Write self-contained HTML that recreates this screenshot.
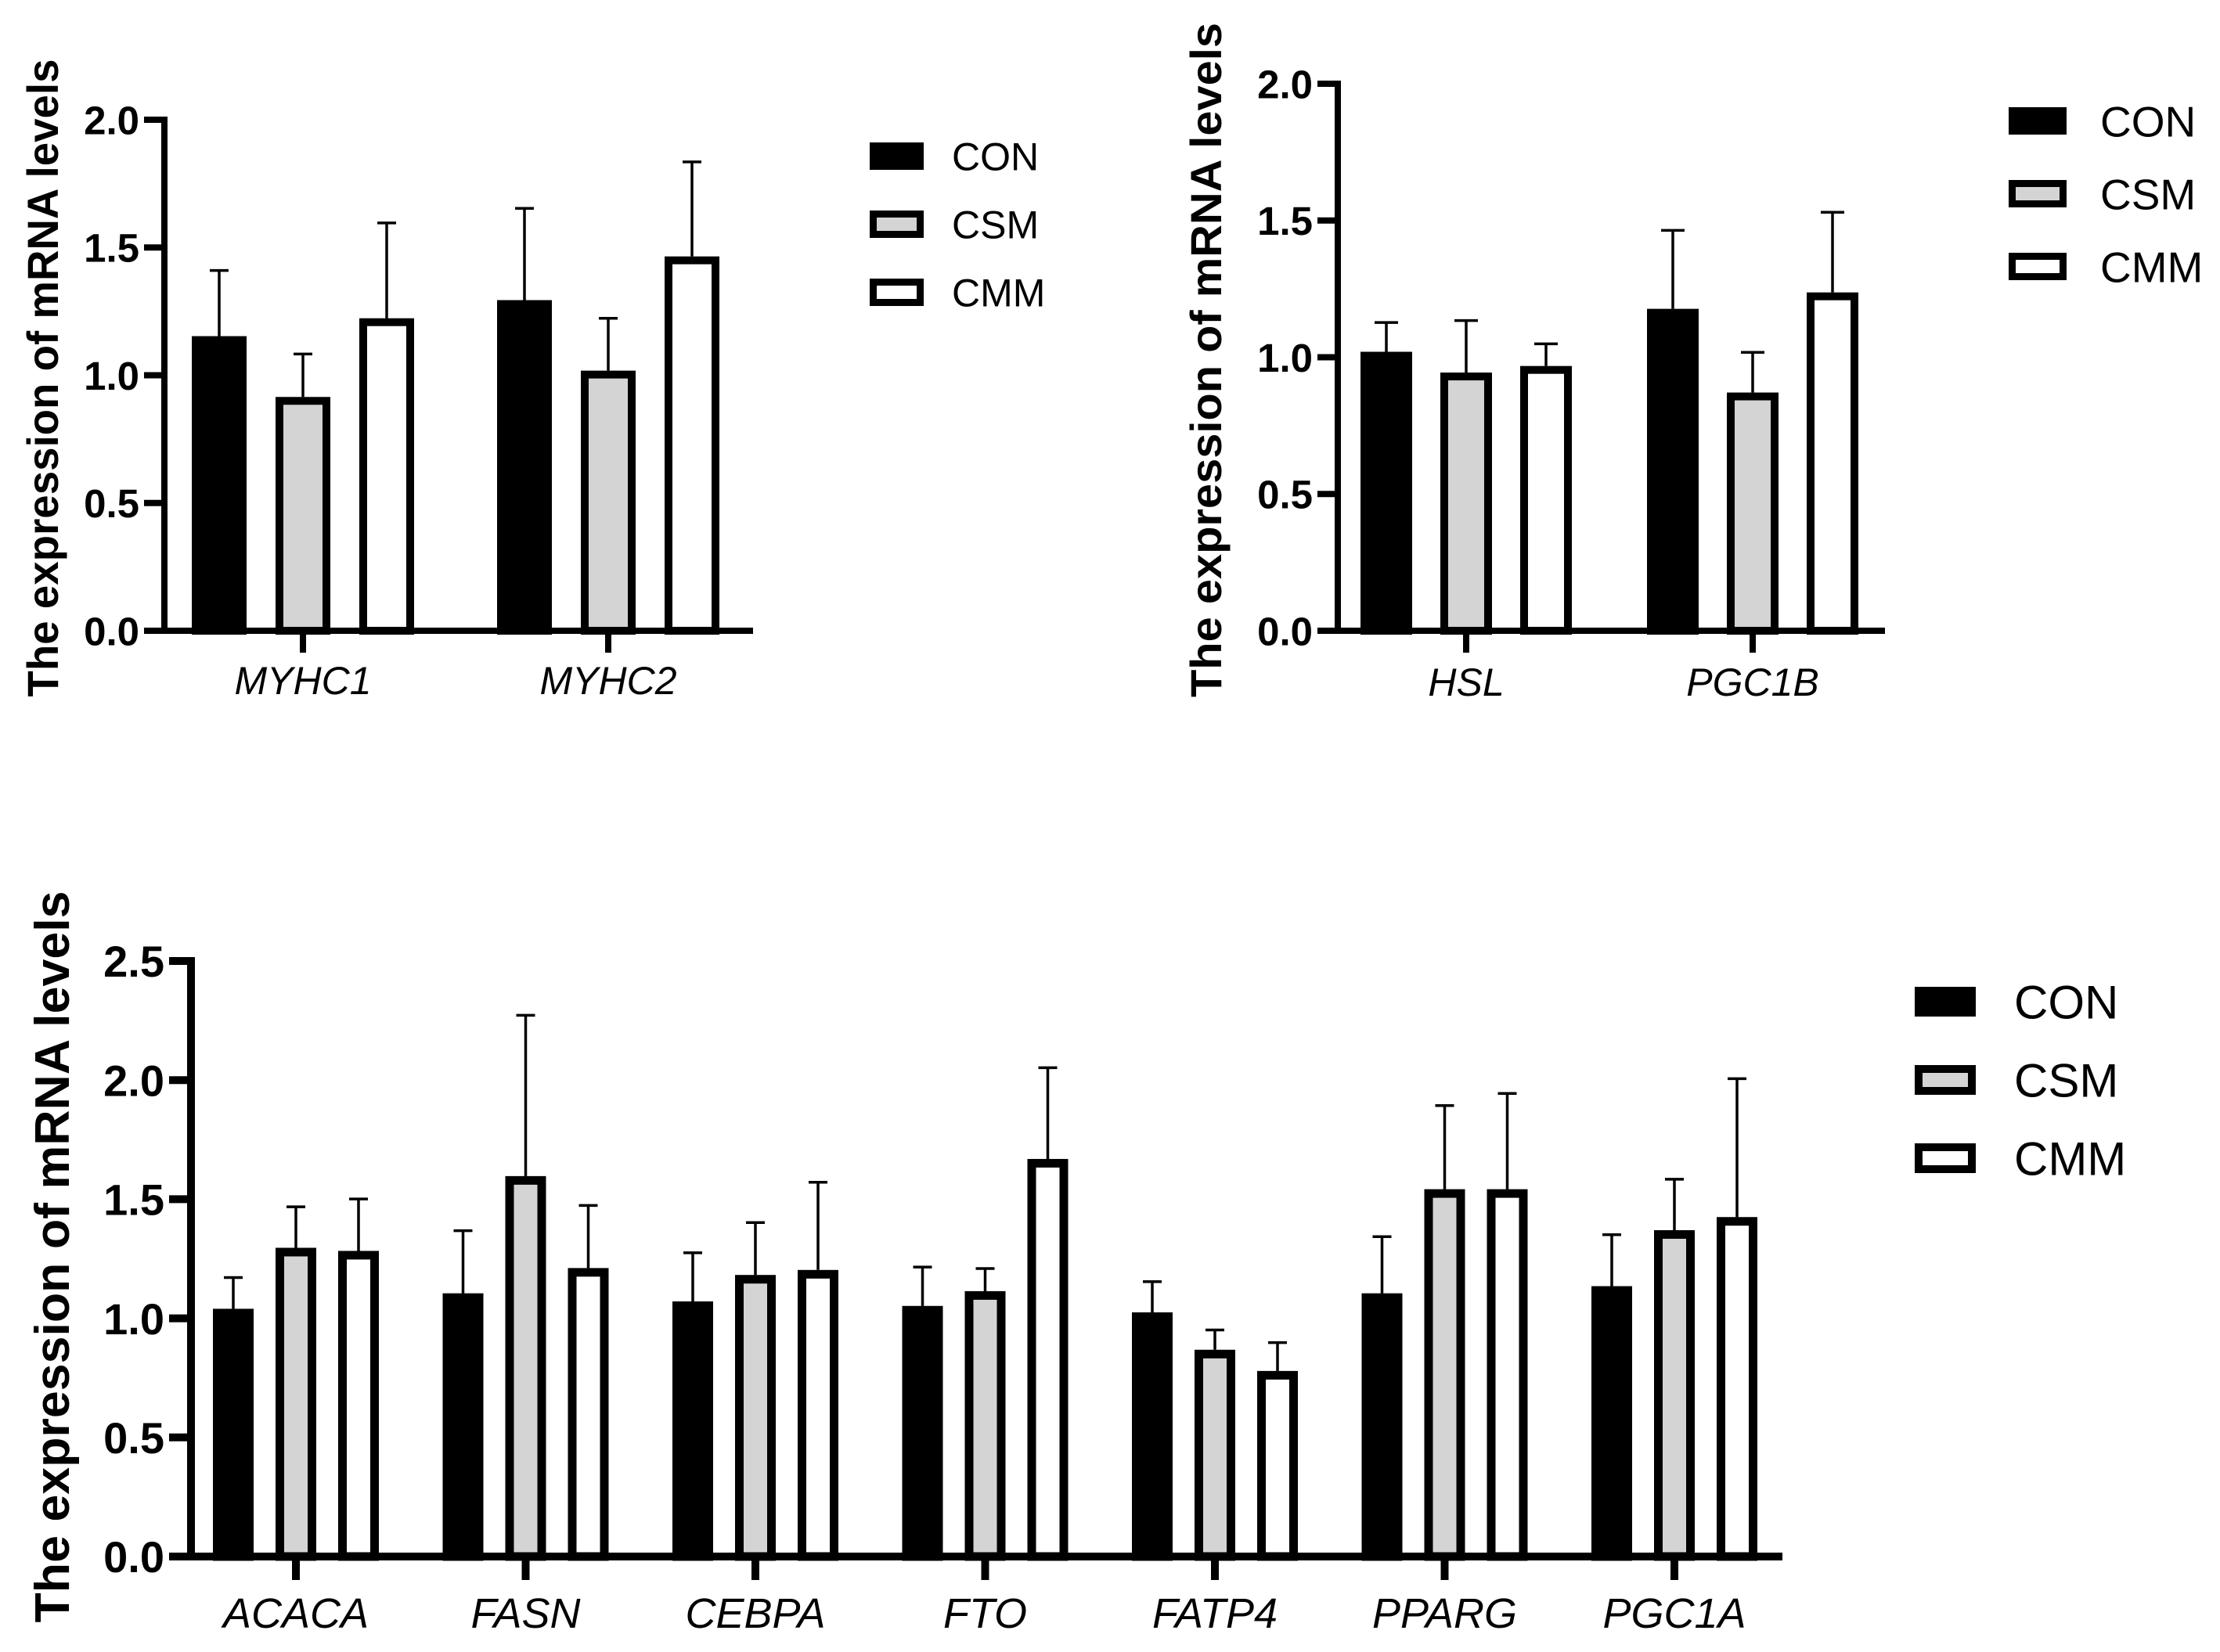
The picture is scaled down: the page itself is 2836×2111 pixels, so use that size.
<!DOCTYPE html>
<html><head><meta charset="utf-8">
<style>
html,body{margin:0;padding:0;background:#fff;}
svg{display:block;}
text{font-family:"Liberation Sans",Arial,sans-serif;fill:#000;}
</style></head>
<body>
<svg id="fig" width="2836" height="2111" viewBox="0 0 2836 2111" xmlns="http://www.w3.org/2000/svg"></svg>
<script>
// ---- data ----
const groups = ["CON", "CSM", "CMM"];
const fills = ["#000000", "#d4d4d4", "#ffffff"];

const cats1 = ["MYHC1", "MYHC2"];
const con1 = [1.153, 1.294];
const csm1 = [0.915, 1.018];
const cmm1 = [1.223, 1.465];
const conErr1 = [1.41, 1.653];
const csmErr1 = [1.083, 1.223];
const cmmErr1 = [1.596, 1.835];
const ticks1 = ["0.0", "0.5", "1.0", "1.5", "2.0"];

const cats2 = ["HSL", "PGC1B"];
const con2 = [1.02, 1.177];
const csm2 = [0.944, 0.871];
const cmm2 = [0.968, 1.237];
const conErr2 = [1.127, 1.464];
const csmErr2 = [1.134, 1.018];
const cmmErr2 = [1.049, 1.53];
const ticks2 = ["0.0", "0.5", "1.0", "1.5", "2.0"];

const cats3 = ["ACACA", "FASN", "CEBPA", "FTO", "FATP4", "PPARG", "PGC1A"];
const con3 = [1.04, 1.105, 1.071, 1.052, 1.025, 1.105, 1.135];
const csm3 = [1.296, 1.597, 1.182, 1.114, 0.868, 1.542, 1.37];
const cmm3 = [1.283, 1.211, 1.203, 1.669, 0.779, 1.542, 1.425];
const conErr3 = [1.171, 1.368, 1.275, 1.215, 1.154, 1.343, 1.351];
const csmErr3 = [1.468, 2.272, 1.402, 1.209, 0.951, 1.893, 1.584];
const cmmErr3 = [1.501, 1.474, 1.571, 2.052, 0.898, 1.944, 2.006];
const ticks3 = ["0.0", "0.5", "1.0", "1.5", "2.0", "2.5"];

const NS = "http://www.w3.org/2000/svg";
const svg = document.getElementById("fig");
function mk(tag, attrs, parent) {
  const e = document.createElementNS(NS, tag);
  for (const k in attrs) e.setAttribute(k, attrs[k]);
  (parent || svg).appendChild(e);
  return e;
}

function drawChart(o) {
  const g = mk("g", {});
  
  
  const yMax = o.ticks.length - 1;
  const yScale = v => o.y0 - (v / (yMax * 0.5)) * (o.y0 - o.yTop);
  const xScale = i => o.x0 + i * o.step;
  const vals = [o.con, o.csm, o.cmm];
  const errs = [o.conErr, o.csmErr, o.cmmErr];
  for (let i = 0; i < o.cats.length; i++) {
    for (let s = 0; s < 3; s++) {
      const cx = xScale(i) + (s - 1) * o.off;
      const yT = yScale(vals[s][i]);
      const yE = yScale(errs[s][i]);
      const el = mk("line", {x1: cx, x2: cx, y1: yE, y2: yT, stroke: "#000", "stroke-width": o.ew}, g);
      
      
      const cap = mk("line", {x1: cx - o.cap / 2, x2: cx + o.cap / 2, y1: yE, y2: yE, stroke: "#000", "stroke-width": o.ew}, g);
      
      
      const b = o.bw2;
      const r = mk("rect", {x: cx - o.bw / 2 + b / 2, y: yT + b / 2, width: o.bw - b, height: o.y0 - yT - b / 2, fill: fills[s], stroke: "#000", "stroke-width": b}, g);
      
      
    }
  }
  const ya = mk("line", {x1: o.ax, x2: o.ax, y1: o.yTop - o.aw / 2, y2: o.y0 + o.aw / 2, stroke: "#000", "stroke-width": o.aw}, g);
  
  
  const xa = mk("line", {x1: o.ax - o.aw / 2, x2: o.xEnd, y1: o.y0, y2: o.y0, stroke: "#000", "stroke-width": o.aw}, g);
  
  
  for (let t = 0; t < o.ticks.length; t++) {
    const y = yScale(t * 0.5);
    const tk = mk("line", {x1: o.ax - o.tl, x2: o.ax, y1: y, y2: y, stroke: "#000", "stroke-width": o.aw}, g);
    
    
    const tx = mk("text", {x: o.ax - o.tl - 6, y: y + o.tfs * 0.36, "text-anchor": "end", "font-size": o.tfs, "font-weight": "bold"}, g);
    tx.textContent = o.ticks[t];
    
    
  }
  for (let i = 0; i < o.cats.length; i++) {
    const x = xScale(i);
    const tk = mk("line", {x1: x, x2: x, y1: o.y0, y2: o.y0 + o.tl + 2, stroke: "#000", "stroke-width": o.aw}, g);
    
    
    const tx = mk("text", {x: x, y: o.labY, "text-anchor": "middle", "font-size": o.cfs, "font-style": "italic"}, g);
    tx.textContent = o.cats[i];
    
    
  }
  const tt = mk("text", {x: 0, y: 0, "text-anchor": "middle", "font-size": o.yfs, "font-weight": "bold",
    transform: "translate(" + o.ytX + "," + o.ytY + ") rotate(-90)", textLength: o.ytLen, lengthAdjust: "spacingAndGlyphs"}, g);
  tt.textContent = "The expression of mRNA levels";
  
  
  for (let s = 0; s < 3; s++) {
    const y = o.legY + s * o.legStep;
    const b = o.legB;
    const r = mk("rect", {x: o.legX + b / 2, y: y + b / 2, width: o.legW - b, height: o.legH - b, fill: fills[s], stroke: "#000", "stroke-width": b}, g);
    
    
    const tx = mk("text", {x: o.legTX, y: y + o.legH / 2 + o.lfs * 0.36, "font-size": o.lfs}, g);
    tx.textContent = groups[s];
    
    
  }
}

drawChart({name: "chart-muscle-fiber", cats: cats1, con: con1, csm: csm1, cmm: cmm1,
  conErr: conErr1, csmErr: csmErr1, cmmErr: cmmErr1, ticks: ticks1,
  ax: 210, y0: 806, yTop: 153, xEnd: 962, x0: 387, step: 390, off: 107, bw: 70, bw2: 10,
  ew: 3.5, cap: 24, aw: 8, tl: 26, tfs: 51, cfs: 50, labY: 887,
  yfs: 56, ytX: 74, ytY: 483, ytLen: 815,
  legX: 1111, legY: 182, legStep: 87, legW: 69, legH: 35, legB: 9, legTX: 1216, lfs: 50});

drawChart({name: "chart-lipolysis", cats: cats2, con: con2, csm: csm2, cmm: cmm2,
  conErr: conErr2, csmErr: csmErr2, cmmErr: cmmErr2, ticks: ticks2,
  ax: 1709, y0: 806, yTop: 107, xEnd: 2408, x0: 1873, step: 366, off: 102, bw: 66, bw2: 10,
  ew: 3.5, cap: 30, aw: 8, tl: 26, tfs: 51, cfs: 50, labY: 889,
  yfs: 56, ytX: 1560, ytY: 460, ytLen: 862,
  legX: 2566, legY: 137, legStep: 93, legW: 74, legH: 35, legB: 9, legTX: 2683, lfs: 55});

drawChart({name: "chart-lipid-metabolism", cats: cats3, con: con3, csm: csm3, cmm: cmm3,
  conErr: conErr3, csmErr: csmErr3, cmmErr: cmmErr3, ticks: ticks3,
  ax: 244, y0: 1989, yTop: 1228, xEnd: 2277, x0: 378, step: 293.5, off: 80, bw: 52, bw2: 11,
  ew: 3.5, cap: 24, aw: 10, tl: 28, tfs: 56, cfs: 54, labY: 2080,
  yfs: 62, ytX: 88, ytY: 1606, ytLen: 935,
  legX: 2446, legY: 1261, legStep: 100, legW: 78, legH: 38, legB: 10, legTX: 2573, lfs: 60});
</script>
</body></html>
